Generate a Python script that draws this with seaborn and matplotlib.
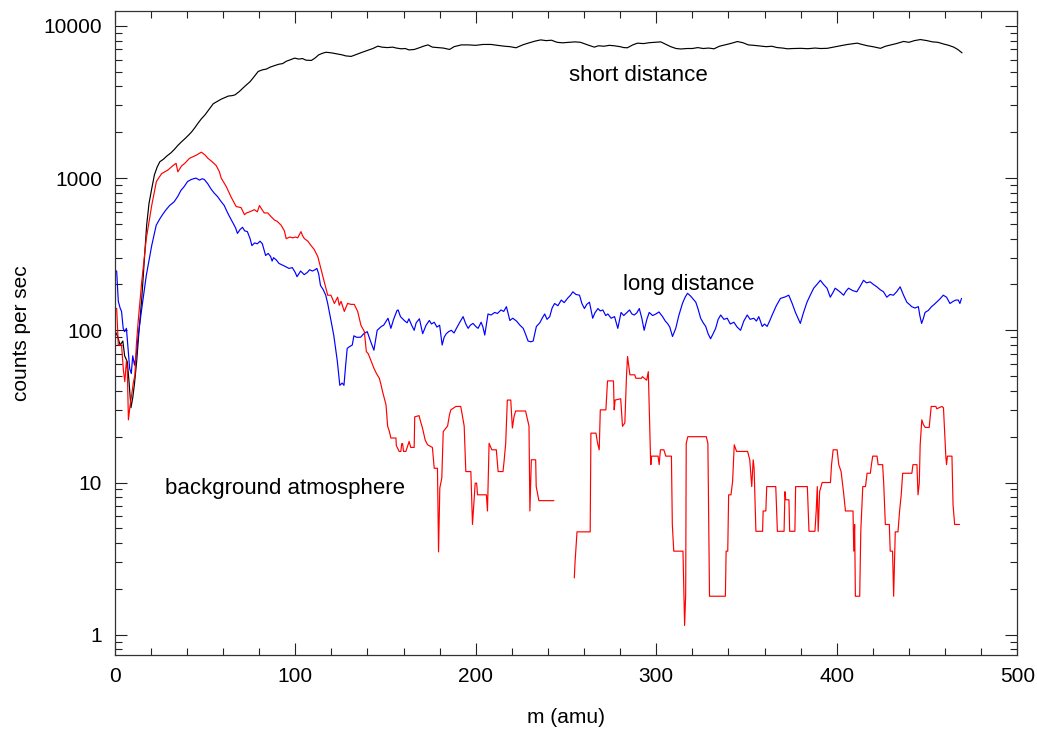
import numpy as np
import pandas as pd
import matplotlib
matplotlib.use("Agg")
import matplotlib.pyplot as plt
import matplotlib.ticker as mticker
import seaborn as sns

# (m in amu, counts per sec)
short_dist = [
    (0, 100), (1.5, 92), (3, 80), (4.5, 85), (5.5, 68), (7, 62), (8, 45), (9, 31),
    (10, 36), (11, 45), (12.2, 63), (13.5, 100), (15, 162), (16.5, 300), (17.7, 490),
    (19, 680), (20.5, 850), (22, 1050), (23.5, 1180), (25, 1280), (27, 1330), (29, 1400),
    (31, 1460), (33, 1540), (35, 1640), (37, 1730), (39, 1820), (41, 1920), (42.6, 2010),
    (44.5, 2150), (46, 2280), (48, 2450), (50, 2600), (52, 2800), (54.6, 3080), (57, 3200),
    (59, 3300), (61, 3380), (63, 3460), (65, 3480), (66.6, 3520), (69, 3700), (71, 3900),
    (73, 4100), (75, 4300), (77, 4600), (79.5, 5020), (82, 5150), (84, 5200), (86, 5350),
    (88.7, 5490), (91, 5600), (93, 5650), (95, 5850), (97.5, 6000), (99.7, 6140),
    (102, 6050), (104, 6100), (106, 5950), (109, 5930), (111, 6150), (113, 6450),
    (115, 6600), (117, 6710), (120, 6650), (123, 6550), (126, 6450), (128, 6350),
    (131, 6300), (134, 6500), (137, 6700), (140, 6900), (143, 7100), (145.8, 7360),
    (148, 7250), (151, 7200), (154, 7250), (156, 7150), (158.7, 7070), (161, 7100),
    (163, 6950), (166, 7000), (169, 7200), (171, 7350), (173.5, 7500), (176, 7250),
    (179, 7200), (182, 7150), (185.5, 7000), (188, 7300), (192, 7500), (196, 7500),
    (200, 7450), (204, 7550), (208.5, 7550), (212, 7450), (216, 7350), (219, 7300),
    (222.3, 7180), (226, 7500), (229, 7700), (233, 7950), (236, 8090), (239, 8000),
    (242, 8050), (245, 7800), (248, 7740), (252, 7800), (255, 7850), (258, 7800),
    (262, 7500), (265.7, 7250), (268, 7400), (271, 7350), (274, 7450), (276.7, 7400),
    (280, 7300), (282, 7200), (284, 7180), (287, 7500), (289.6, 7700), (293, 7650),
    (296, 7750), (299, 7800), (302.5, 7850), (305, 7600), (308, 7300), (311, 7100),
    (313.6, 7050), (317, 7100), (320, 7100), (323, 7200), (326, 7100), (329, 7150),
    (332, 7070), (335, 7350), (338, 7500), (341, 7650), (345, 7890), (348, 7750),
    (351, 7500), (354, 7450), (357.9, 7360), (361, 7300), (364, 7350), (367, 7200),
    (370, 7150), (372.6, 7070), (376, 7100), (380, 7120), (384, 7080), (388, 7150),
    (391, 7100), (394.7, 7120), (398, 7250), (402, 7400), (406, 7550), (411.3, 7700),
    (414, 7550), (417, 7400), (420, 7300), (424.2, 7120), (427, 7350), (430, 7500),
    (433, 7650), (437, 7900), (440, 7800), (443, 8000), (446.3, 8130), (450, 8000),
    (453, 7850), (456, 7800), (459.2, 7600), (462, 7450), (464.8, 7250), (467, 7000),
    (469.4, 6650),
]

long_dist = [
    (0, 250), (1.1, 244), (2, 155), (3, 140), (3.8, 133), (4.7, 103), (5.5, 98), (6.5, 103),
    (7.4, 76), (8.3, 56), (9.2, 52), (10, 68), (11, 59), (12, 70), (13, 92), (15, 139),
    (17.5, 229), (20.5, 360), (23, 490), (25, 540), (26.7, 580), (28.5, 620), (30.4, 660),
    (33, 700), (35, 760), (36.7, 830), (38.5, 880), (40.4, 950), (42.5, 980), (45, 1000),
    (47, 970), (48.5, 990), (49.6, 980), (51.5, 920), (53.3, 850), (55, 800), (57, 755),
    (59, 700), (60.7, 660), (62, 610), (63.4, 565), (65, 520), (66.2, 490), (67, 470),
    (68, 433), (69.5, 460), (70.8, 475), (72, 450), (73.5, 445), (75, 400), (76, 360),
    (77.5, 375), (79, 370), (80.5, 385), (81.8, 370), (83.6, 310), (85, 320), (86.4, 305),
    (87.2, 285), (88, 300), (89.5, 290), (91, 275), (93, 268), (94.7, 262), (96.5, 255),
    (98.4, 258), (100, 240), (101, 225), (103, 245), (105, 232), (106.7, 240), (108, 250),
    (109.5, 245), (111, 250), (112, 255), (113, 235), (114, 197), (115.5, 185), (116.9, 170),
    (118, 150), (119.6, 120), (120.5, 105), (121.4, 92), (122.4, 75), (123.3, 63),
    (124.7, 43.5), (126, 45), (127, 43.5), (128, 60), (128.8, 76), (130, 78), (131.6, 80),
    (132.5, 92), (134, 90), (136.2, 90), (138, 95), (139.9, 98), (141.7, 85), (143.6, 74),
    (145.4, 100), (147.7, 106), (149, 108), (151.4, 120), (153, 103), (154.5, 118),
    (156.4, 135), (157, 136), (158.3, 123), (160.4, 116), (162, 112), (163, 119),
    (164.5, 108), (165.9, 100), (167, 112), (168.8, 119), (170.6, 95), (172.5, 108),
    (174.3, 116), (175.5, 110), (177, 113), (178.5, 105), (180, 108), (181.4, 80),
    (182.5, 90), (183.7, 95), (185, 98), (186.5, 100), (188, 96), (189.3, 103), (191, 112),
    (193, 123), (194.5, 110), (195.8, 103), (197, 108), (198.5, 111), (200, 106),
    (201.3, 103), (203, 113), (204, 105), (205, 93), (206.8, 128), (208.5, 126),
    (210.5, 131), (212, 129), (214, 136), (215.5, 133), (217, 143), (218.9, 116),
    (220.5, 120), (222.6, 115), (224.5, 108), (226.3, 103), (227.5, 95), (229, 85),
    (230.5, 84), (231.8, 85), (233.6, 106), (235.5, 112), (236.8, 120), (238.2, 128),
    (239.5, 118), (241, 123), (242.3, 140), (243.7, 150), (245.5, 145), (247.4, 158),
    (249, 152), (251, 163), (252.5, 170), (253.8, 179), (255.5, 172), (257.5, 170),
    (258.8, 150), (260.2, 139), (261.5, 148), (263, 153), (264.8, 120), (266, 130),
    (267.7, 139), (269, 134), (270.4, 136), (272, 125), (273.2, 128), (275, 120),
    (276.9, 123), (278.7, 103), (280.5, 131), (282, 125), (283.5, 130), (285.2, 136),
    (286.5, 128), (287.8, 126), (289.2, 130), (290.6, 139), (292, 120), (293.3, 100),
    (294.8, 118), (296.1, 131), (298, 125), (299.8, 128), (301.5, 132), (303.5, 123),
    (305, 115), (306.2, 111), (307.5, 105), (309, 91), (310.8, 103), (312.5, 125),
    (314.5, 150), (316, 165), (317.3, 175), (319, 168), (320.5, 160), (321.9, 153),
    (323, 140), (324.6, 120), (326, 112), (327.4, 106), (328.7, 95), (330.1, 88),
    (331.5, 95), (332.9, 103), (334.3, 118), (335.7, 126), (337.5, 118), (339.3, 120),
    (341, 110), (343, 113), (344.8, 105), (346.7, 100), (348.5, 115), (350.4, 126),
    (352, 118), (354, 120), (355.5, 115), (356.8, 123), (358.7, 106), (360, 110),
    (361.4, 106), (362.8, 115), (364.2, 126), (366.5, 145), (368.8, 162), (371, 165),
    (373.4, 170), (375.3, 150), (377.1, 131), (378.5, 120), (379.8, 111), (381.5, 130),
    (383.5, 153), (385.3, 170), (387.2, 189), (389, 200), (390.9, 213), (392.7, 200),
    (394.6, 189), (396.4, 165), (398, 178), (399.1, 189), (401.5, 180), (403.8, 170),
    (405, 180), (406.5, 189), (409, 182), (411.1, 179), (413, 195), (414.8, 213),
    (416.5, 205), (418.5, 208), (420.3, 200), (422.2, 193), (424, 185), (425.9, 179),
    (427.7, 165), (429.5, 172), (431.4, 170), (433.3, 180), (435.1, 193), (437, 170),
    (438.8, 153), (440.2, 148), (441.5, 143), (443.3, 140), (445.2, 143), (446, 125),
    (447, 111), (448, 120), (448.9, 131), (450.7, 135), (452.5, 143), (454, 148),
    (455.3, 153), (457, 160), (459, 170), (460.8, 165), (462.7, 150), (464.5, 155),
    (466, 158), (467.3, 158), (468.2, 150), (469.1, 162),
]

# background atmosphere, two pieces (no data between ~243 and ~254 amu)
bg_low = [
    (0, 140), (1.1, 139), (2, 80), (3.8, 80), (4.8, 55), (5.6, 46), (6.5, 63), (7, 55),
    (7.6, 25.8), (8.5, 32), (9.4, 37.6), (10.3, 45), (11.2, 51), (12, 80), (13, 114),
    (15, 210), (17.5, 400), (20.5, 660), (23.1, 950), (26, 1070), (29.5, 1130), (32, 1200),
    (34, 1250), (35, 1100), (37, 1200), (38.8, 1250), (41.5, 1350), (45, 1410), (48, 1480),
    (50, 1420), (51.6, 1350), (54, 1280), (56.2, 1210), (58, 1100), (59, 1000), (61.8, 880),
    (64.5, 750), (67.3, 650), (70, 640), (71.9, 575), (73, 590), (74.7, 600), (76, 610),
    (77.4, 620), (79, 600), (80.2, 660), (82, 610), (82.9, 590), (84.8, 590), (86.5, 560),
    (88.5, 530), (90, 520), (92.2, 490), (94, 450), (95, 400), (97, 410), (98.7, 405),
    (100, 410), (101.4, 405), (103.2, 445), (104, 420), (105.1, 400), (107, 385),
    (108.8, 360), (110.5, 340), (112.5, 305), (114, 260), (115.2, 230), (116.5, 200),
    (118, 170), (119.8, 170), (121.7, 150), (123.5, 165), (124.4, 146), (125.4, 155),
    (127.2, 133), (129, 150), (131, 148), (132.7, 148), (134.6, 133), (136.4, 108),
    (138.3, 98), (139.4, 72.5), (140.5, 70), (142, 63), (143.7, 56), (145, 52),
    (146.6, 48.4), (147.5, 44), (148.4, 39.5), (150.3, 32.4), (151.2, 23.4), (152, 22),
    (153, 19.6), (155.8, 19.6), (156, 17.5), (157.6, 16), (158.5, 16), (159, 18),
    (159.5, 18), (160, 16), (161.3, 16), (162, 17), (163.1, 18.6), (164, 17), (165.9, 17),
    (166.2, 27), (168.6, 27.5), (169.5, 25), (170.5, 22.8), (172, 19), (173.3, 17.7),
    (176, 17), (177, 12.4), (178.8, 12.4), (179.4, 3.5), (180.1, 9.2), (181.2, 10.7),
    (182, 21.6), (184.4, 23.5), (185.5, 28), (186.2, 30), (189, 31.6), (191.7, 31.6),
    (193.6, 23.5), (194.5, 11.8), (197.3, 11.8), (198.2, 5.3), (199.7, 9.9), (200.5, 9.9),
    (201, 8.3), (205.9, 8.3), (206.5, 6.5), (207.4, 18.1), (208.9, 16.4), (211.4, 16.4),
    (212.4, 11.8), (215.1, 11.8), (215.7, 13.8), (216.6, 18.1), (217.5, 34.8),
    (219.4, 34.8), (220.3, 22.8), (221.2, 27), (222.1, 29.5), (227.6, 29.5), (229.5, 23.5),
    (230, 6.5), (230.8, 14.1), (233.2, 14.1), (233.5, 9.4), (235, 7.6), (243.3, 7.6),
]
bg_high = [
    (254.6, 2.36), (255, 2.97), (256.1, 4.74), (263.4, 4.74), (263.8, 21.1), (266.6, 21.1),
    (267.5, 18.1), (268.4, 16.4), (269, 30), (272.1, 30), (273, 46.5), (276.3, 46.5),
    (276.7, 30), (277.2, 34.8), (280.3, 35.5), (281.3, 23.4), (282.6, 24.6), (283.5, 49.6),
    (284.1, 67.3), (285.4, 51), (288.1, 51), (288.7, 48.4), (291.8, 48.4), (292.3, 49.6),
    (294.7, 47), (295.6, 53.5), (296.1, 30.7), (296.8, 14.9), (297, 13.1), (297.4, 14.9),
    (301, 14.9), (301.6, 13.1), (302.3, 16.4), (304.2, 16.4), (305.3, 14.9), (308.4, 14.9),
    (308.9, 5.3), (309.7, 3.54), (314.8, 3.54), (315.7, 1.15), (316.3, 1.84), (316.6, 18.1),
    (317.5, 20), (327.7, 20), (328.6, 18.1), (329.5, 1.79), (338.3, 1.79), (338.7, 3.54),
    (339.6, 3.54), (340.1, 8.3), (341.4, 8.3), (342.3, 10.2), (343.2, 17.7), (344.5, 16),
    (350.6, 16), (351.8, 14.1), (352.9, 9.4), (353.7, 14.1), (354.2, 12.4), (355.2, 4.78),
    (358.9, 4.78), (359.2, 6.5), (360.7, 6.5), (361.2, 9.4), (366.2, 9.4), (367.1, 4.78),
    (370.8, 4.78), (371.3, 8.7), (371.7, 7.7), (373.5, 7.7), (373.9, 4.78), (376.8, 4.78),
    (377.2, 9.4), (383.7, 9.4), (384.6, 4.78), (387.9, 4.78), (388.6, 6.5), (389.2, 9.4),
    (389.7, 4.78), (390.5, 8.7), (391.9, 10), (396.5, 10), (397.1, 13.1), (398, 16.4),
    (400.2, 16.4), (401.1, 13.1), (402.4, 11.8), (403.9, 8.3), (404.8, 6.5), (409, 6.5),
    (409.4, 3.54), (409.9, 5.3), (410.3, 1.79), (412.7, 1.79), (413.3, 4.78), (414.4, 9.4),
    (415.9, 9.4), (416.8, 11.5), (418.6, 11.5), (419.2, 13.1), (419.9, 14.9), (422.3, 14.9),
    (422.9, 13.1), (425.4, 13.1), (426, 9.9), (426.9, 5.3), (429.1, 5.3), (429.6, 3.54),
    (430.9, 3.54), (431.5, 1.79), (432.4, 4.74), (433.9, 4.74), (434.8, 6.5), (435.7, 8.3),
    (436.5, 11.5), (441.6, 11.5), (442.2, 13.1), (444.4, 13.1), (445, 8.3), (445.7, 9.9),
    (446.2, 17.7), (447.1, 25.8), (448, 24), (449, 23), (451.2, 23), (452.3, 31.6),
    (454.9, 31.6), (455.4, 30.5), (458.2, 31.6), (459.1, 31), (459.6, 23.4), (460.4, 14.9),
    (460.8, 13.1), (461.3, 14.9), (463.8, 14.9), (464.4, 7.15), (465.3, 5.3), (468, 5.3),
]

labels = ["short distance", "long distance", "background atmosphere"]
label_pos = [(290, 4690), (318, 199), (94.3, 9.2)]

#%%
def to_df(pts, seg):
    df = pd.DataFrame(pts, columns=["m", "cps"])
    df["seg"] = seg
    return df

df_short = to_df(short_dist, 0)
df_long = to_df(long_dist, 0)
df_bg = pd.concat([to_df(bg_low, 0), to_df(bg_high, 1)], ignore_index=True)

sns.set_style("ticks")
plt.rcParams["font.family"] = ["Liberation Sans", "DejaVu Sans"]
plt.rcParams["font.size"] = 15
plt.rcParams["text.color"] = "black"
plt.rcParams["axes.labelcolor"] = "black"

fig = plt.figure(figsize=(10.37, 7.31), dpi=100)
ax = fig.add_axes([0.1106, 0.104, 0.8704, 0.881])

lw = 0.85
sns.lineplot(data=df_short, x="m", y="cps", color="black", lw=lw, estimator=None, sort=False, ax=ax)
sns.lineplot(data=df_long, x="m", y="cps", color="#0000ff", lw=lw, estimator=None, sort=False, ax=ax)
sns.lineplot(data=df_bg, x="m", y="cps", units="seg", color="#ff0000", lw=lw, estimator=None, sort=False, ax=ax)

ax.set_yscale("log")
ax.set_xlim(0, 500)
ax.set_ylim(0.736, 12530)

ax.xaxis.set_major_locator(mticker.MultipleLocator(100))
ax.xaxis.set_minor_locator(mticker.MultipleLocator(20))
ax.yaxis.set_major_locator(mticker.LogLocator(base=10, numticks=10))
ax.yaxis.set_minor_locator(mticker.LogLocator(base=10, subs=np.arange(2, 10), numticks=20))
ax.yaxis.set_major_formatter(mticker.FuncFormatter(lambda v, p: "{:g}".format(v)))
ax.yaxis.set_minor_formatter(mticker.NullFormatter())

ax.tick_params(which="both", direction="in", top=True, right=True, width=0.8, colors="#222222", labelcolor="black", labelsize=15)
ax.tick_params(which="major", length=8.5, pad=9)
ax.tick_params(which="minor", length=5)
for s in ax.spines.values():
    s.set_linewidth(0.9)
    s.set_color("#333333")

ax.set_xlabel("m (amu)", fontsize=15, color="black")
ax.set_ylabel("counts per sec", fontsize=15, color="black")
ax.xaxis.set_label_coords(0.5, -0.083)
ax.yaxis.set_label_coords(-0.093, 0.5)

for txt, (xm, yc) in zip(labels, label_pos):
    ax.text(xm, yc, txt, ha="center", va="center", fontsize=16, color="black")

fig.savefig("out.png", dpi=100)
